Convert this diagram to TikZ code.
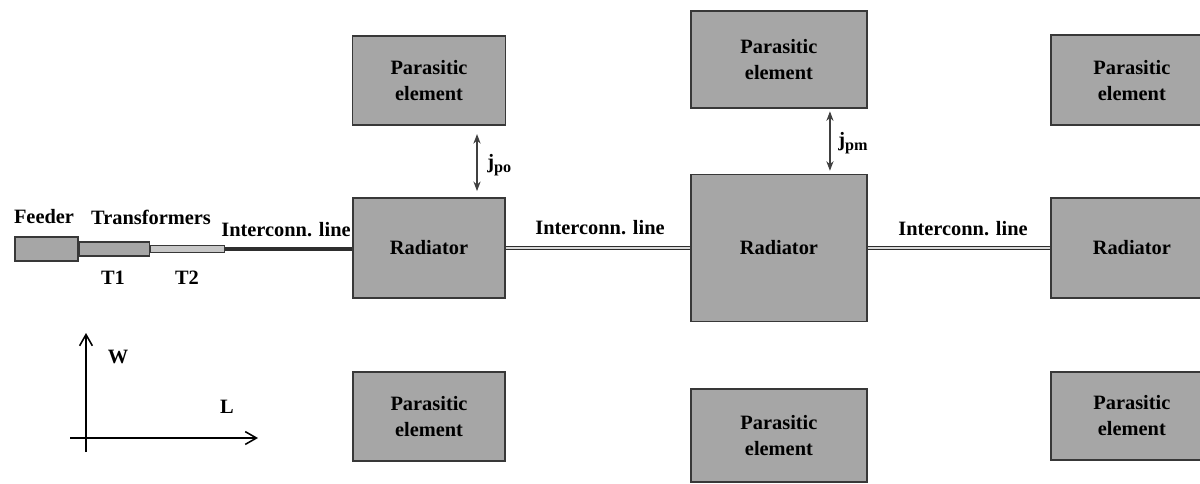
\documentclass[tikz,border=0pt]{standalone}
\usepackage{fontspec}
\setmainfont{Liberation Serif}
\usetikzlibrary{arrows.meta, positioning}

\newcommand{\jsub}[1]{j\raisebox{-0.4ex}{\fontsize{11.5}{12}\selectfont #1}}

\begin{document}
\begin{tikzpicture}[
    x=0.025cm, y=-0.025cm,
    elem/.style={rectangle, draw=black!78, fill=black!35, line width=1.3pt, inner sep=0pt,
                 align=center, font=\fontsize{14.5}{18.5}\selectfont\bfseries},
    feed/.style={rectangle, draw=black!78, fill=black!35, line width=1pt, inner sep=0pt},
    lbl/.style={font=\fontsize{14.5}{17}\selectfont\bfseries, inner sep=0pt, anchor=base},
    dline/.style={draw=black!82, line width=1.1pt, double=black!15, double distance=1.3pt},
    jarrow/.style={{Stealth[length=2.4mm,width=1.8mm]}-{Stealth[length=2.4mm,width=1.8mm]},
                   line width=0.8pt, draw=black!75},
    axis/.style={-{Straight Barb[length=2.8mm,width=3.2mm]}, line width=1.1pt}
]
\useasboundingbox (0,0) rectangle (1200,483);
\clip (0,0) rectangle (1200,483);

% radiators
\node[elem, minimum width=3.8cm, minimum height=2.5cm] (rad1) at (429,248) {Radiator};
\node[elem, minimum width=4.4cm, minimum height=3.675cm, right=4.6cm of rad1] (rad2) {Radiator};
\node[elem, minimum width=4.05cm, minimum height=2.5cm, right=4.55cm of rad2] (rad3) {Radiator};

% parasitic elements
\node[elem, minimum width=3.825cm, minimum height=2.225cm, above=1.775cm of rad1] (par1top) {Parasitic\\element};
\node[elem, minimum width=4.4cm, minimum height=2.425cm, above=1.625cm of rad2] (par2top) {Parasitic\\element};
\node[elem, minimum width=4.05cm, minimum height=2.25cm, above=1.775cm of rad3] (par3top) {Parasitic\\element};
\node[elem, minimum width=3.8cm, minimum height=2.225cm, below=1.8cm of rad1] (par1bot) {Parasitic\\element};
\node[elem, minimum width=4.4cm, minimum height=2.325cm, below=1.65cm of rad2] (par2bot) {Parasitic\\element};
\node[elem, minimum width=4.05cm, minimum height=2.2cm, below=1.8cm of rad3] (par3bot) {Parasitic\\element};

% feeder and transformers
\node[feed, minimum width=1.575cm, minimum height=0.6cm] (feeder) at (46.5,249) {};
\node[feed, minimum width=1.75cm, minimum height=0.35cm, right=0pt of feeder] (t1) {};
\node[feed, fill=black!22, line width=0.8pt, minimum width=1.85cm, minimum height=0.175cm, right=0pt of t1] (t2) {};

\node[lbl] (feederlbl) at (44,223) {Feeder};
\node[lbl] (translbl) at (151,224) {Transformers};
\node[lbl] (t1lbl) at (113,284) {T1};
\node[lbl] (t2lbl) at (187,284) {T2};

% interconnection lines
\draw[line width=2.2pt, black!82] (t2.east) -- (t2.east -| rad1.west);
\draw[dline] (rad1.east) -- (rad2.west);
\draw[dline] (rad2.east) -- (rad3.west);
\node[lbl] (line1lbl) at (286,236) {Interconn. line};
\node[lbl] (line2lbl) at (600,234) {Interconn. line};
\node[lbl] (line3lbl) at (963,235) {Interconn. line};

% coupling arrows
\draw[jarrow, shorten <=0.2cm, shorten >=0.15cm] ([xshift=1.2cm]par1top.south) -- ([xshift=1.2cm]rad1.north);
\draw[jarrow, shorten <=0.07cm, shorten >=0.07cm] ([xshift=1.275cm]par2top.south) -- ([xshift=1.275cm]rad2.north);
\node[lbl, anchor=west] (jpo) at (487,165) {\jsub{po}};
\node[lbl, anchor=west] (jpm) at (838,143) {\jsub{pm}};

% axes
\coordinate (wstart) at (86,452);
\coordinate (wend) at (86,333);
\coordinate (lstart) at (70,438);
\coordinate (lend) at (258,438);
\draw[axis] (wstart) -- (wend);
\draw[axis] (lstart) -- (lend);
\node[lbl] (wlbl) at (118,363) {W};
\node[lbl] (llbl) at (227,413) {L};

\end{tikzpicture}
\end{document}
